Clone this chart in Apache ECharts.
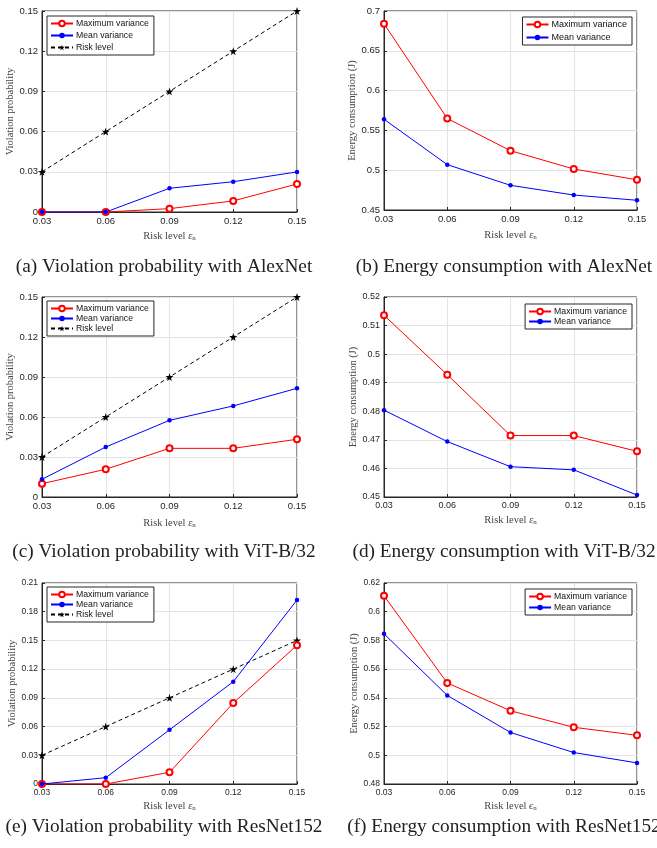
<!DOCTYPE html>
<html>
<head>
<meta charset="utf-8">
<script src="https://cdn.jsdelivr.net/npm/echarts@6/dist/echarts.min.js"></script>
<style>
html,body{margin:0;padding:0;background:#fff;}
#c{width:657px;height:848px;}
</style>
</head>
<body>
<div id="c"></div>
<script>
// ---------- data ----------
var riskLevels = [0.03, 0.06, 0.09, 0.12, 0.15];
var riskLine = [0.03, 0.06, 0.09, 0.12, 0.15];

var alexViolMax  = [0, 0, 0.0025, 0.0083, 0.0209];
var alexViolMean = [0, 0, 0.0177, 0.0226, 0.0299];
var alexEnerMax  = [0.684, 0.565, 0.5245, 0.5015, 0.488];
var alexEnerMean = [0.564, 0.507, 0.481, 0.4688, 0.4622];

var vitViolMax  = [0.010, 0.0208, 0.0365, 0.0365, 0.0433];
var vitViolMean = [0.0133, 0.0375, 0.0575, 0.0683, 0.0815];
var vitEnerMax  = [0.5136, 0.4928, 0.4715, 0.4715, 0.466];
var vitEnerMean = [0.4804, 0.4694, 0.4606, 0.4595, 0.4507];

var resViolMax  = [0, 0, 0.0122, 0.0846, 0.145];
var resViolMean = [0, 0.0066, 0.0566, 0.1069, 0.1922];
var resEnerMax  = [0.6111, 0.5504, 0.5310, 0.5195, 0.5139];
var resEnerMean = [0.5846, 0.5417, 0.5159, 0.5019, 0.4947];

var captions = [
  '(a) Violation probability with AlexNet',
  '(b) Energy consumption with AlexNet',
  '(c) Violation probability with ViT-B/32',
  '(d) Energy consumption with ViT-B/32',
  '(e) Violation probability with ResNet152',
  '(f) Energy consumption with ResNet152'
];
var nameMax = 'Maximum variance', nameMean = 'Mean variance', nameRisk = 'Risk level';

// ---------- layout ----------
var panels = [
  {grid:{left:42,top:11,width:255,height:201}, y:[0,0.15,0.03], yName:'Violation probability', yGap:23, xGap:18, fs:9.5, lfs:8.7, eps:'ε',
   series:[alexViolMax, alexViolMean, riskLine], legend:{left:47,top:16}, ig:3, cap:{x:164,y:267}},
  {grid:{left:384,top:11,width:253,height:199}, y:[0.45,0.7,0.05], yName:'Energy consumption (J)', yGap:22, xGap:19, fs:9.5, lfs:9, eps:'ε',
   series:[alexEnerMax, alexEnerMean], legend:{right:25,top:17}, ig:4, cap:{x:504,y:267}},
  {grid:{left:42,top:297,width:255,height:200}, y:[0,0.15,0.03], yName:'Violation probability', yGap:24, xGap:20, fs:9.5, lfs:8.7, eps:'ε',
   series:[vitViolMax, vitViolMean, riskLine], legend:{left:47,top:301}, ig:1, cap:{x:164,y:552}},
  {grid:{left:384,top:297,width:253,height:200}, y:[0.45,0.52,0.01], yName:'Energy consumption (J)', yGap:24, xGap:17, fs:9, lfs:8.7, eps:'ε',
   series:[vitEnerMax, vitEnerMean], legend:{right:25,top:304}, ig:1, cap:{x:504,y:552}},
  {grid:{left:42,top:583,width:255,height:201}, y:[0,0.21,0.03], yName:'Violation probability', yGap:23, xGap:16, fs:8.5, lfs:8.7, eps:'ε',
   series:[resViolMax, resViolMean, riskLine], legend:{left:47,top:587}, ig:1, cap:{x:164,y:827}},
  {grid:{left:384,top:583,width:253,height:201}, y:[0.48,0.62,0.02], yName:'Energy consumption (J)', yGap:23, xGap:16, fs:8.5, lfs:8.7, eps:'ϵ',
   series:[resEnerMax, resEnerMean], legend:{right:25,top:589}, ig:2, cap:{x:504,y:827}}
];

var starPath = 'path://M50,0 L61,35 L98,35 L68,57 L79,91 L50,70 L21,91 L32,57 L2,35 L39,35 Z';
var axisCol = '#262626';
function fmt(v){ return String(+v.toFixed(3)); }
function pairs(arr){ return arr.map(function(v,i){ return [riskLevels[i], v]; }); }

var option = {
  animation:false,
  backgroundColor:'#fff',
  grid:[], xAxis:[], yAxis:[], series:[], legend:[], graphic:[]
};

panels.forEach(function(p, k){
  option.grid.push(Object.assign({show:true, borderColor:axisCol, borderWidth:1, backgroundColor:'transparent'}, p.grid));
  option.xAxis.push({
    type:'value', gridIndex:k, min:0.03, max:0.15, interval:0.03,
    axisLine:{show:true, onZero:false, lineStyle:{color:axisCol, width:1}},
    axisTick:{show:true, inside:true, length:3, lineStyle:{color:axisCol}},
    axisLabel:{color:axisCol, fontSize:p.fs, fontFamily:'Liberation Sans', margin:4, formatter:fmt},
    splitLine:{show:true, lineStyle:{color:'#e3e3e3', width:1}},
    name:'Risk level {e|' + p.eps + '}{s|n}', nameLocation:'middle', nameGap:p.xGap,
    nameTextStyle:{color:'#444', fontSize:10.5, fontFamily:'Liberation Serif',
      rich:{e:{fontSize:10.5, fontFamily:'Liberation Serif', fontStyle:'italic', color:'#444'},
            s:{fontSize:7, fontFamily:'Liberation Serif', color:'#444', padding:[5,0,0,0]}}}
  });
  option.yAxis.push({
    type:'value', gridIndex:k, min:p.y[0], max:p.y[1], interval:p.y[2],
    axisLine:{show:true, onZero:false, lineStyle:{color:axisCol, width:1}},
    axisTick:{show:true, inside:true, length:3, lineStyle:{color:axisCol}},
    axisLabel:{color:axisCol, fontSize:p.fs, fontFamily:'Liberation Sans', margin:4, formatter:fmt},
    splitLine:{show:true, lineStyle:{color:'#e3e3e3', width:1}},
    name:p.yName, nameLocation:'middle', nameGap:p.yGap, nameRotate:90,
    nameTextStyle:{color:'#444', fontSize:10.5, fontFamily:'Liberation Serif'}
  });
  option.series.push({
    type:'line', name:nameMax, xAxisIndex:k, yAxisIndex:k, data:pairs(p.series[0]),
    symbol:'emptyCircle', symbolSize:6, color:'#ff0000',
    lineStyle:{color:'#ff0000', width:1}, itemStyle:{color:'#ff0000', borderColor:'#ff0000', borderWidth:1}, z:3
  });
  option.series.push({
    type:'line', name:nameMean, xAxisIndex:k, yAxisIndex:k, data:pairs(p.series[1]),
    symbol:'circle', symbolSize:4.5, color:'#0000ff',
    lineStyle:{color:'#0000ff', width:1}, itemStyle:{color:'#0000ff'}, z:4
  });
  var names = [nameMax, nameMean];
  if (p.series.length > 2) {
    option.series.push({
      type:'line', name:nameRisk, xAxisIndex:k, yAxisIndex:k, data:pairs(p.series[2]),
      symbol:starPath, symbolSize:8, color:'#000',
      lineStyle:{color:'#000', width:1, type:[4,3]}, itemStyle:{color:'#000'}, z:2
    });
    names.push(nameRisk);
  }
  option.legend.push(Object.assign({
    data:names, orient:'vertical', show:true, selectedMode:false,
    backgroundColor:'#fff', borderColor:axisCol, borderWidth:1,
    padding:[3,5,3,3], itemGap:p.ig,
    itemWidth:22, itemHeight:7,
    textStyle:{color:'#111', fontSize:p.lfs, fontFamily:'Liberation Sans', padding:[0,0,0,-2]}
  }, p.legend));
  option.graphic.push({
    type:'text', x:p.cap.x, y:p.cap.y,
    style:{text:captions[k], font:'19.3px "Liberation Serif"', fill:'#222', align:'center', verticalAlign:'middle'}
  });
});

var chart = echarts.init(document.getElementById('c'), null, {renderer:'canvas'});
chart.setOption(option);
</script>
</body>
</html>
